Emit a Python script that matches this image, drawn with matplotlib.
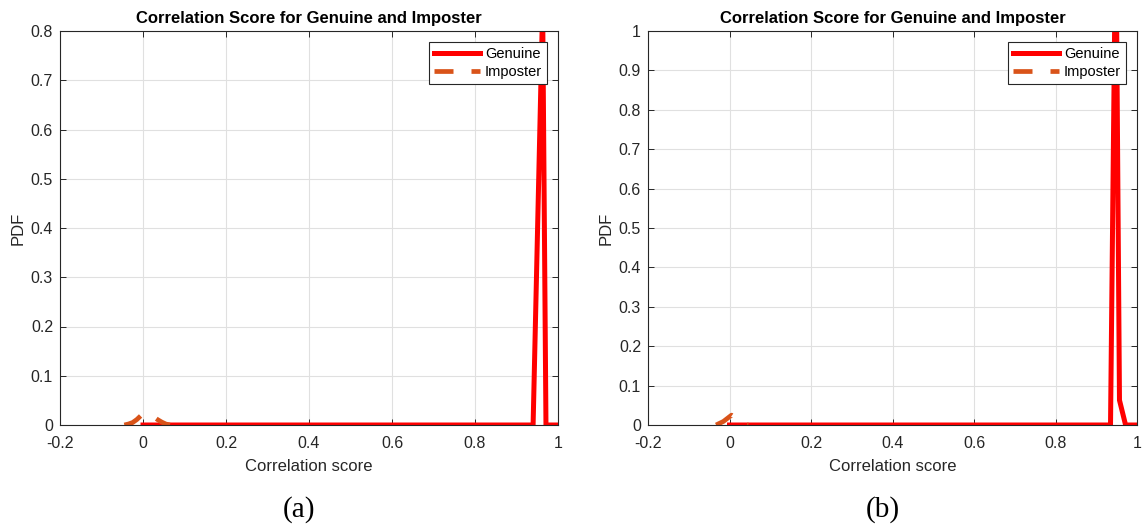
import matplotlib
matplotlib.use("Agg")
import matplotlib.pyplot as plt

plt.rcParams['font.family'] = ['Liberation Sans', 'DejaVu Sans']
plt.rcParams['axes.unicode_minus'] = False
plt.rcParams['lines.scale_dashes'] = False

# left panel (a)
gen_x_a = [0.0, 0.94, 0.963, 0.971, 1.0]
gen_y_a = [0.0, 0.0, 0.85, 0.0, 0.0]
imp_x_a = [-0.045, -0.035, -0.025, -0.015, -0.005, 0.005, 0.015, 0.025, 0.035, 0.045, 0.055, 0.065]
imp_y_a = [0.0, 0.002, 0.005, 0.011, 0.019, 0.024, 0.022, 0.017, 0.011, 0.006, 0.002, 0.0]

# right panel (b)
gen_x_b = [0.0, 0.935, 0.948, 0.957, 0.972, 1.0]
gen_y_b = [0.0, 0.0, 1.3, 0.063, 0.0, 0.0]
imp_x_b = [-0.033, -0.025, -0.015, -0.005, 0.005, 0.015, 0.025, 0.035, 0.046]
imp_y_b = [0.0, 0.004, 0.009, 0.017, 0.025, 0.018, 0.008, 0.002, 0.0]

x_ticks = [-0.2, 0, 0.2, 0.4, 0.6, 0.8, 1]
x_labels = ["-0.2", "0", "0.2", "0.4", "0.6", "0.8", "1"]
y_ticks_a = [0, 0.1, 0.2, 0.3, 0.4, 0.5, 0.6, 0.7, 0.8]
y_labels_a = ["0", "0.1", "0.2", "0.3", "0.4", "0.5", "0.6", "0.7", "0.8"]
y_ticks_b = [0, 0.1, 0.2, 0.3, 0.4, 0.5, 0.6, 0.7, 0.8, 0.9, 1]
y_labels_b = ["0", "0.1", "0.2", "0.3", "0.4", "0.5", "0.6", "0.7", "0.8", "0.9", "1"]

W, H = 1143, 525
fig = plt.figure(figsize=(W / 100, H / 100), dpi=100)
ax_a = fig.add_axes([60 / W, 100 / H, 498 / W, 394 / H])
ax_b = fig.add_axes([648 / W, 100 / H, 489 / W, 394 / H])

dark = (0.15, 0.15, 0.15)
orange = (0.85, 0.325, 0.098)


def draw(ax, gx, gy, ix, iy, yt, yl, letter):
    ax.plot(gx, gy, color='red', lw=3.6, label='Genuine', solid_joinstyle='miter')
    ax.plot(ix, iy, color=orange, lw=3.4, linestyle=(0, (19 * 0.72, 18 * 0.72)),
            dash_capstyle='butt', label='Imposter')
    ax.set_xlim(-0.2, 1)
    ax.set_ylim(0, yt[-1])
    ax.set_xticks(x_ticks)
    ax.set_xticklabels(x_labels)
    ax.set_yticks(yt)
    ax.set_yticklabels(yl)
    ax.grid(True, color=(0.88, 0.88, 0.88), lw=0.8)
    ax.set_axisbelow(True)
    ax.tick_params(direction='in', length=4, width=0.7, colors=dark,
                   labelsize=11.5, top=True, right=True)
    ax.tick_params(axis='x', pad=8)
    ax.tick_params(axis='y', pad=5)
    for s in ax.spines.values():
        s.set_color(dark)
        s.set_linewidth(0.8)
    ax.set_title("Correlation Score for Genuine and Imposter", fontsize=12,
                 fontweight='bold', pad=6)
    ax.set_xlabel("Correlation score", fontsize=12, color=dark, labelpad=6)
    ax.set_ylabel("PDF", fontsize=12, color=dark, labelpad=4)
    leg = ax.legend(loc='upper right', fontsize=10.5, handlelength=3.2,
                    fancybox=False, framealpha=1, borderpad=0.35,
                    labelspacing=0.25, handletextpad=0.3, borderaxespad=0.75)
    leg.get_frame().set_edgecolor(dark)
    leg.get_frame().set_linewidth(0.8)
    bb = ax.get_position()
    fig.text(bb.x0 + bb.width * 0.48, 15 / H, letter, ha='center', va='center',
             fontsize=21, family='Liberation Serif')


draw(ax_a, gen_x_a, gen_y_a, imp_x_a, imp_y_a, y_ticks_a, y_labels_a, "(a)")
draw(ax_b, gen_x_b, gen_y_b, imp_x_b, imp_y_b, y_ticks_b, y_labels_b, "(b)")

fig.savefig("out.png", dpi=100)
